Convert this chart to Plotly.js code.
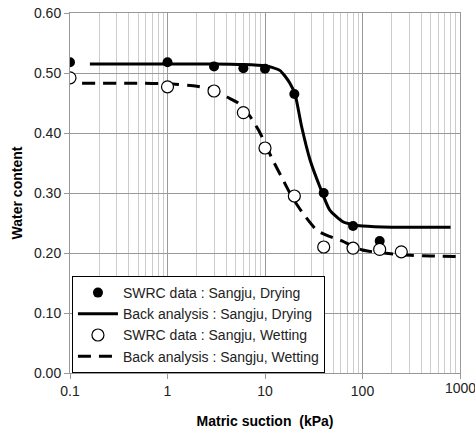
<!DOCTYPE html>
<html><head><meta charset="utf-8">
<script src="https://cdn.plot.ly/plotly-3.0.1.min.js"></script>
<style>body{margin:0;padding:0;background:#fff}#chart{width:475px;height:430px}</style>
</head><body><div id="chart"></div>
<script>
const dryX = [0.1, 1, 3, 6, 10, 20, 40, 80, 150];
const dryY = [0.518, 0.518, 0.511, 0.508, 0.507, 0.465, 0.300, 0.245, 0.220];
const wetX = [0.1, 1, 3, 6, 10, 20, 40, 80, 150, 250];
const wetY = [0.492, 0.477, 0.470, 0.434, 0.375, 0.295, 0.210, 0.208, 0.206, 0.202];
// Back-analysis curves
const fitDryX = [0.16, 1, 3, 6, 10, 12, 14.3, 16, 18, 20.3, 23.8, 29, 36.6, 46, 63, 80, 100, 200, 400, 800];
const fitDryY = [0.515, 0.515, 0.515, 0.514, 0.512, 0.509, 0.504, 0.495, 0.483, 0.465, 0.410, 0.355, 0.310, 0.272, 0.252, 0.247, 0.245, 0.243, 0.243, 0.243];
const fitWetX = [0.133, 0.5, 1, 2, 3, 4.07, 5.3, 7, 8.9, 12, 15.3, 19, 23.8, 34, 45, 58, 100, 260, 500, 1000];
const fitWetY = [0.483, 0.483, 0.482, 0.478, 0.472, 0.460, 0.450, 0.428, 0.400, 0.355, 0.322, 0.293, 0.269, 0.238, 0.228, 0.222, 0.205, 0.197, 0.195, 0.194];
const names = ['SWRC data : Sangju, Drying', 'Back analysis : Sangju, Drying',
               'SWRC data : Sangju, Wetting', 'Back analysis : Sangju, Wetting'];
const xTicks = [0.1, 1, 10, 100, 1000];
const xTickText = ['0.1', '1', '10', '100', '1000'];
const yTicks = [0, 0.1, 0.2, 0.3, 0.4, 0.5, 0.6];

const traces = [
  {x: dryX, y: dryY, name: names[0], mode: 'markers', type: 'scatter', legendrank: 1,
   marker: {symbol: 'circle', size: 10, color: '#000'}},
  {x: fitDryX, y: fitDryY, name: names[1], mode: 'lines', type: 'scatter', legendrank: 2,
   line: {color: '#000', width: 3, shape: 'spline', smoothing: 0.6}},
  {x: wetX, y: wetY, name: names[2], mode: 'markers', type: 'scatter', legendrank: 3,
   marker: {symbol: 'circle', size: 12, color: '#fff', line: {color: '#000', width: 1.2}}},
  {x: fitWetX, y: fitWetY, name: names[3], mode: 'lines', type: 'scatter', legendrank: 4,
   line: {color: '#000', width: 3, dash: '13px,8px', shape: 'spline', smoothing: 0.6}}
];
const ordered = [traces[1], traces[3], traces[0], traces[2]];

// last tick label (at the right edge) is drawn as an annotation so it is not culled
const lastIdx = xTicks.length - 1;
const axisTickText = xTickText.map((t, i) => i === lastIdx ? '' : t);

const layout = {
  width: 475, height: 430,
  margin: {l: 70, r: 15, t: 13, b: 57},
  paper_bgcolor: '#fff', plot_bgcolor: '#fff',
  font: {family: 'Liberation Sans, Arial, sans-serif', size: 14, color: '#222'},
  showlegend: true,
  legend: {x: 0.005, y: 0, xanchor: 'left', yanchor: 'bottom', bgcolor: '#fff',
           bordercolor: '#000', borderwidth: 1, font: {size: 14, color: '#222'},
           itemwidth: 40, tracegroupgap: 0, traceorder: 'normal'},
  xaxis: {type: 'log', range: [-1, 3], tickvals: xTicks, ticktext: axisTickText, showgrid: true, gridcolor: '#999', gridwidth: 1,
          minor: {showgrid: true, gridcolor: '#ccc', dtick: 'D1', ticks: ''},
          ticks: 'outside', ticklen: 5, tickcolor: '#999', showline: true, linecolor: '#999', mirror: true,
          zeroline: false, tickfont: {size: 14},
          title: {text: 'Matric suction\u00a0\u00a0(kPa)', font: {size: 14, color: '#000', weight: 'bold'}, standoff: 18}},
  yaxis: {range: [0, 0.6], tickvals: yTicks, tickformat: '.2f', showgrid: true, gridcolor: '#999',
          ticks: 'outside', ticklen: 5, tickcolor: '#999', showline: true, linecolor: '#999', mirror: true,
          zeroline: false, tickfont: {size: 14},
          title: {text: 'Water content', font: {size: 14, color: '#000', weight: 'bold'}, standoff: 8}},
  annotations: [{x: Math.log10(xTicks[lastIdx]), y: 0, xref: 'x', yref: 'y', text: xTickText[lastIdx],
                 showarrow: false, xanchor: 'center', yanchor: 'top', yshift: -5,
                 font: {size: 14, color: '#222'}}]
};
Plotly.newPlot('chart', ordered, layout, {displayModeBar: false, staticPlot: true});
</script></body></html>
